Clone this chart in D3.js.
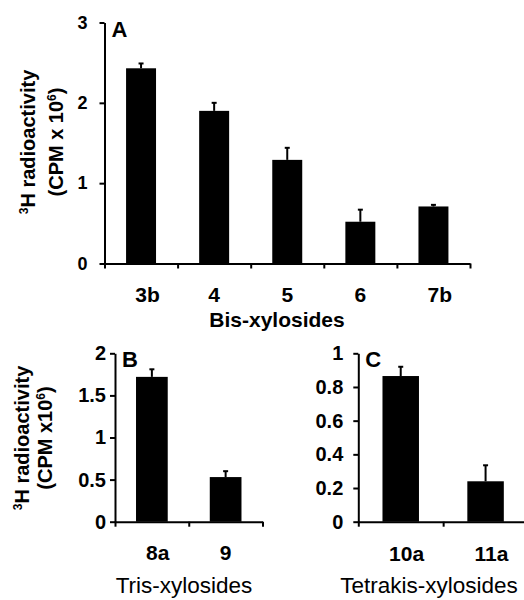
<!DOCTYPE html>
<html>
<head>
<meta charset="utf-8">
<script src="https://cdn.jsdelivr.net/npm/d3@7"></script>
<style>
  body { margin: 0; background: #fff; }
  svg { display: block; font-family: "Liberation Sans", Arial, sans-serif; }
  .tick text { font-weight: bold; }
</style>
</head>
<body>
<svg id="chart" width="524" height="600"></svg>
<script>
// Panel A - bis-xylosides
const bisLabels = ["3b", "4", "5", "6", "7b"];
const bisValues = [2.43, 1.90, 1.29, 0.52, 0.71];
const bisErrors = [0.06, 0.10, 0.15, 0.15, 0.02];
const bisTicks = [0, 1, 2, 3];

// Panel B - tris-xylosides
const trisLabels = ["8a", "9"];
const trisValues = [1.72, 0.53];
const trisErrors = [0.09, 0.07];
const trisTicks = [0, 0.5, 1, 1.5, 2];

// Panel C - tetrakis-xylosides
const tetraLabels = ["10a", "11a"];
const tetraValues = [0.865, 0.24];
const tetraErrors = [0.055, 0.095];
const tetraTicks = [0, 0.2, 0.4, 0.6, 0.8, 1];

const svg = d3.select("#chart");

/** draws one bar panel with upper error whiskers */
function drawPanel(opt) {
  const g = svg.append("g");
  const ymax = opt.ticks[opt.ticks.length - 1];

  const x = d3.scaleBand()
    .domain(opt.labels)
    .range([opt.x0, opt.x1])
    .paddingInner(opt.pad)
    .paddingOuter(opt.pad / 2);
  const y = d3.scaleLinear().domain([0, ymax]).range([opt.y0, opt.yTop]);

  const rows = opt.labels.map((c, i) => ({ c: c, v: opt.values[i], e: opt.errors[i] }));
  const mid = d => x(d.c) + x.bandwidth() / 2;

  // bars
  g.selectAll("rect.bar").data(rows)
    .join("rect")
    .attr("class", "bar")
    .attr("x", d => x(d.c))
    .attr("width", x.bandwidth())
    .attr("y", d => y(d.v))
    .attr("height", d => y(0) - y(d.v))
    .attr("fill", "#000");

  // error bars (upper only)
  g.selectAll("line.err").data(rows)
    .join("line")
    .attr("class", "err")
    .attr("x1", mid).attr("x2", mid)
    .attr("y1", d => y(d.v))
    .attr("y2", d => y(d.v + d.e))
    .attr("stroke", "#000").attr("stroke-width", 2);
  g.selectAll("line.cap").data(rows)
    .join("line")
    .attr("class", "cap")
    .attr("x1", d => mid(d) - 2.5)
    .attr("x2", d => mid(d) + 2.5)
    .attr("y1", d => y(d.v + d.e))
    .attr("y2", d => y(d.v + d.e))
    .attr("stroke", "#000").attr("stroke-width", 2);

  // y axis
  const yAxis = g.append("g")
    .attr("transform", "translate(" + opt.x0 + ",0)")
    .call(d3.axisLeft(y).tickValues(opt.ticks).tickFormat(d3.format("~g"))
      .tickSize(5).tickSizeOuter(0).tickPadding(opt.tickPad));
  yAxis.select(".domain").attr("stroke-width", 2);
  yAxis.selectAll(".tick line").attr("stroke-width", 2);
  yAxis.selectAll(".tick text")
    .attr("font-size", opt.tickSize).attr("fill", "#000");

  // x axis with ticks at category boundaries
  const xb = d3.scaleLinear().domain([0, opt.labels.length]).range([opt.x0, opt.x1]);
  const xAxis = g.append("g")
    .attr("transform", "translate(0," + opt.y0 + ")")
    .call(d3.axisBottom(xb).tickValues(d3.range(opt.labels.length + 1))
      .tickFormat("").tickSize(5).tickSizeOuter(0));
  xAxis.select(".domain").attr("stroke-width", 2);
  xAxis.selectAll(".tick line").attr("stroke-width", 2);

  // category labels: the number is centred under the bar, letter suffix hangs right
  const cats = g.selectAll("text.cat").data(rows)
    .join("text")
    .attr("class", "cat")
    .attr("y", opt.catY)
    .attr("font-size", opt.catSize).attr("font-weight", "bold");
  cats.append("tspan").attr("class", "num").text(d => d.c.replace(/[a-z]/g, ""));
  cats.append("tspan").text(d => d.c.replace(/[0-9]/g, ""));
  cats.each(function (d) {
    const w = d3.select(this).select(".num").node().getComputedTextLength();
    d3.select(this).attr("x", mid(d) - w / 2);
  });

  // group title
  g.append("text")
    .attr("x", opt.titleX).attr("y", opt.titleY)
    .attr("text-anchor", "middle")
    .attr("font-size", opt.titleSize)
    .attr("font-weight", opt.titleWeight)
    .text(opt.title);

  // panel letter
  g.append("text")
    .attr("x", opt.x0 + 7).attr("y", opt.yTop + 14)
    .attr("font-size", 22).attr("font-weight", "bold")
    .text(opt.letter);

  // y axis label
  if (opt.yLab) {
    const l1 = g.append("text")
      .attr("transform", "translate(" + opt.yLab.x1 + "," + opt.yLab.cy + ") rotate(-90)")
      .attr("text-anchor", "middle")
      .attr("font-size", 20).attr("font-weight", "bold");
    l1.append("tspan").attr("font-size", 12).attr("dy", -7).text("3");
    l1.append("tspan").attr("dy", 7).text("H radioactivity");

    const l2 = g.append("text")
      .attr("transform", "translate(" + opt.yLab.x2 + "," + opt.yLab.cy + ") rotate(-90)")
      .attr("text-anchor", "middle")
      .attr("font-size", 20).attr("font-weight", "bold");
    l2.append("tspan").text(opt.yLab.unit);
    l2.append("tspan").attr("font-size", 12).attr("dy", -7).text("6");
    l2.append("tspan").attr("dy", 7).text(")");
  }
}

drawPanel({
  labels: bisLabels, values: bisValues, errors: bisErrors, ticks: bisTicks,
  x0: 104.5, x1: 470, y0: 263.5, yTop: 22.5, pad: 0.59, tickPad: 12, tickSize: 18,
  catY: 302, catSize: 21, title: "Bis-xylosides", titleX: 277, titleY: 327,
  titleSize: 21, titleWeight: "bold", letter: "A",
  yLab: { x1: 35, x2: 63, cy: 142, unit: "(CPM x 10" }
});

drawPanel({
  labels: trisLabels, values: trisValues, errors: trisErrors, ticks: trisTicks,
  x0: 115, x1: 262.5, y0: 521.7, yTop: 353.3, pad: 0.57, tickPad: 4, tickSize: 20,
  catY: 560, catSize: 21, title: "Tris-xylosides", titleX: 184, titleY: 593,
  titleSize: 22.5, titleWeight: "normal", letter: "B",
  yLab: { x1: 29, x2: 52, cy: 438, unit: "(CPM x10" }
});

drawPanel({
  labels: tetraLabels, values: tetraValues, errors: tetraErrors, ticks: tetraTicks,
  x0: 358.3, x1: 528, y0: 521.7, yTop: 353.3, pad: 0.57, tickPad: 10, tickSize: 20,
  catY: 561, catSize: 21, title: "Tetrakis-xylosides", titleX: 429, titleY: 593,
  titleSize: 22.5, titleWeight: "normal", letter: "C"
});
</script>
</body>
</html>
